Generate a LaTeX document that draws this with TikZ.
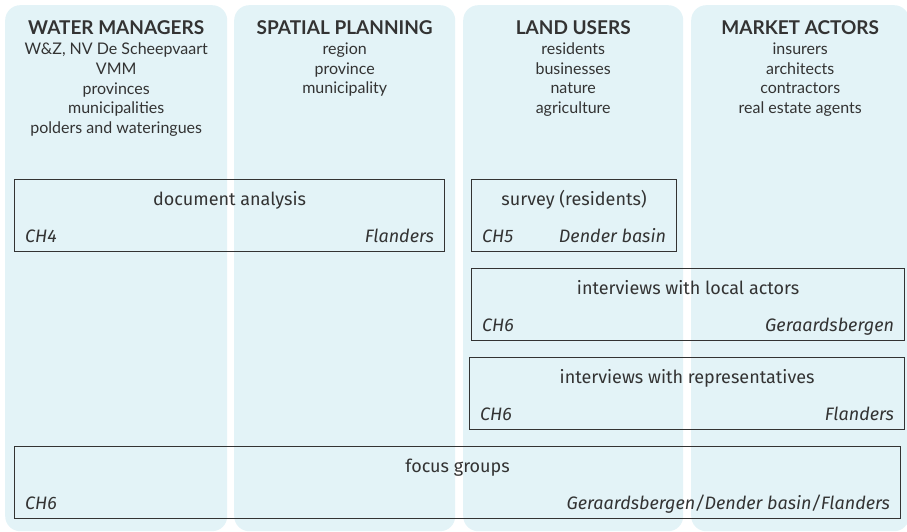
\documentclass[tikz,border=0pt]{standalone}
\usepackage{fontspec}
\setmainfont{Lato}
\newfontfamily\fira{Fira Sans}
\usetikzlibrary{calc}

\definecolor{colbg}{HTML}{E3F3F7}
\definecolor{ink}{HTML}{333333}

\tikzset{
	column/.style = {fill = colbg, rounded corners = 15pt, anchor = north west, inner sep = 0pt, minimum height = 526pt},
	head/.style = {font = \fontsize{19}{22}\selectfont\bfseries, text = ink, anchor = base, inner sep = 0pt},
	members/.style = {font = \fontsize{16}{19.5}\selectfont, text = ink, align = center, anchor = base, inner sep = 0pt},
	method/.style = {draw = ink, line width = 1.2pt, anchor = north west, inner sep = 0pt, minimum height = 72pt},
	mtitle/.style = {font = \fira\fontsize{18}{21}\selectfont, text = ink, anchor = base, inner sep = 0pt},
	chap/.style = {font = \fira\itshape\fontsize{18}{21}\selectfont, text = ink, anchor = base west, inner sep = 0pt},
	area/.style = {chap, anchor = base east}
}

\begin{document}
\begin{tikzpicture}[x = 1pt, y = -1pt]%actor groups and methods
	\clip (0,0) rectangle (907,532);
	% actor columns, member lists anchored at their last baseline
	\node[column, minimum width = 222pt] (C1) at (5,5) {};
	\node[column, minimum width = 221pt] (C2) at (234,5) {};
	\node[column, minimum width = 220pt] (C3) at (463,5) {};
	\node[column, minimum width = 218pt] (C4) at (691,5) {};
	\node[head] (H1) at ($(C1.north) + (0,30)$) {WATER MANAGERS};
	\node[head] (H2) at ($(C2.north) + (0,30)$) {SPATIAL PLANNING};
	\node[head] (H3) at ($(C3.north) + (0,30)$) {LAND USERS};
	\node[head] (H4) at ($(C4.north) + (0,30)$) {MARKET ACTORS};
	\node[members] (M1) at ($(H1.base) + (0,98)$) {W\&Z, NV De Scheepvaart\\VMM\\provinces\\municipalities\\polders and wateringues};
	\node[members] (M2) at ($(H2.base) + (0,59)$) {region\\province\\municipality};
	\node[members] (M3) at ($(H3.base) + (0,78.5)$) {residents\\businesses\\nature\\agriculture};
	\node[members] (M4) at ($(H4.base) + (0,78.5)$) {insurers\\architects\\contractors\\real estate agents};
	% methods
	\node[method, minimum width = 430pt] (DA) at (14,179) {};
	\node[mtitle] (DAt) at ($(DA.north) + (0,26)$) {document analysis};
	\node[chap] (DAc) at ($(DA.south west) + (11,-10)$) {CH4};
	\node[area] (DAa) at ($(DA.south east) + (-11,-10)$) {Flanders};
	\node[method, minimum width = 205pt] (SV) at (471,179) {};
	\node[mtitle] (SVt) at ($(SV.north) + (0,26)$) {survey (residents)};
	\node[chap] (SVc) at ($(SV.south west) + (11,-10)$) {CH5};
	\node[area] (SVa) at ($(SV.south east) + (-11,-10)$) {Dender basin};
	\node[method, minimum width = 433pt] (LA) at (471,268) {};
	\node[mtitle] (LAt) at ($(LA.north) + (0,26)$) {interviews with local actors};
	\node[chap] (LAc) at ($(LA.south west) + (11,-10)$) {CH6};
	\node[area] (LAa) at ($(LA.south east) + (-11,-10)$) {Geraardsbergen};
	\node[method, minimum width = 435pt] (RE) at (469,357) {};
	\node[mtitle] (REt) at ($(RE.north) + (0,26)$) {interviews with representatives};
	\node[chap] (REc) at ($(RE.south west) + (11,-10)$) {CH6};
	\node[area] (REa) at ($(RE.south east) + (-11,-10)$) {Flanders};
	\node[method, minimum width = 886pt] (FG) at (14,446) {};
	\node[mtitle] (FGt) at ($(FG.north) + (0,26)$) {focus groups};
	\node[chap] (FGc) at ($(FG.south west) + (11,-10)$) {CH6};
	\node[area] (FGa) at ($(FG.south east) + (-11,-10)$) {Geraardsbergen/Dender basin/Flanders};
\end{tikzpicture}
\end{document}
